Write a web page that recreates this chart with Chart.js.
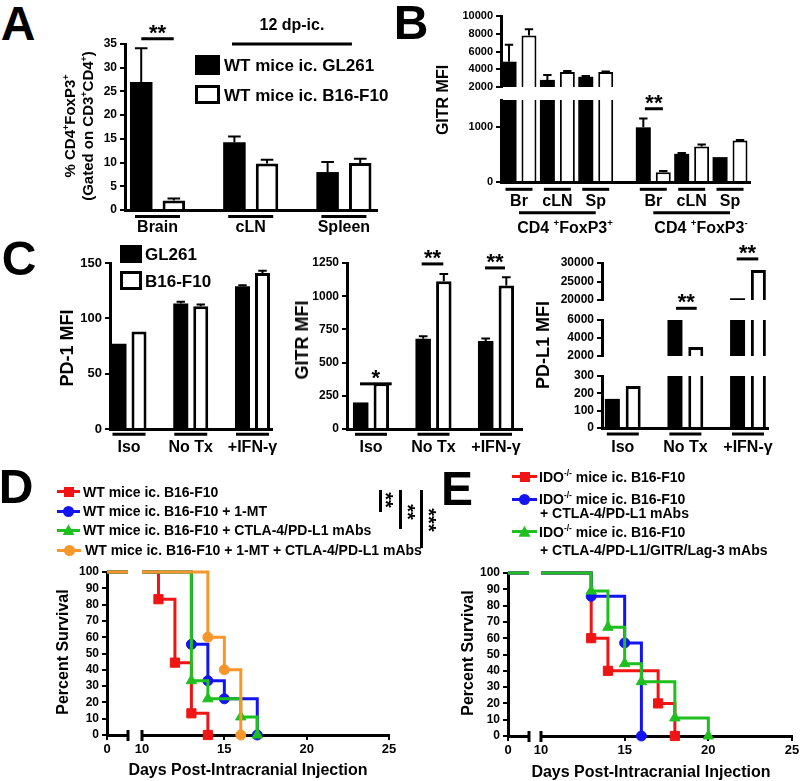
<!DOCTYPE html>
<html lang="en">
<head>
<meta charset="UTF-8">
<title>Treg, checkpoint and survival panels</title>
<script src="https://cdn.jsdelivr.net/npm/chart.js@4.4.1/dist/chart.umd.min.js"></script>
<style>
  body { margin: 0; background: #fff; }
  #fig { position: relative; width: 800px; height: 781px; overflow: hidden; background: #fff;
         font-family: "Liberation Sans", Arial, sans-serif; font-weight: bold; color: #000; }
  #fig canvas { position: absolute; }
  .t { position: absolute; white-space: nowrap; line-height: 1; }
  .t sup { font-size: 0.6em; line-height: 0; vertical-align: 0.7em; }
  .b { position: absolute; box-sizing: border-box; }
</style>
</head>
<body>
<div id="fig"></div>
<script>
// ---------- data ----------
// A: % CD4+FoxP3+ of CD3+CD4+
const aCats = ['Brain', 'cLN', 'Spleen'];
const aGL261 = [27.0, 14.3, 8.0];
const aGL261Err = [7.1, 1.2, 2.1];
const aB16 = [2.0, 9.8, 9.9];
const aB16Err = [0.4, 0.8, 0.9];
const aTicks = [0, 5, 10, 15, 20, 25, 30, 35];

// B: GITR MFI, CD4+FoxP3+ then CD4+FoxP3-
const bCats = ['Br', 'cLN', 'Sp', 'Br', 'cLN', 'Sp'];
const bGL261 = [4850, 2800, 3150, 1000, 515, 455];
const bGL261Err = [1900, 550, 80, 160, 15, 0];
const bB16 = [7800, 3700, 3700, 180, 650, 758];
const bB16Err = [700, 100, 60, 20, 35, 12];
const bTicksHigh = [2000, 4000, 6000, 8000, 10000];
const bTicksLow = [0, 1000];

// C: PD-1, GITR, PD-L1 MFI
const cCats = ['Iso', 'No Tx', '+IFN-γ'];
const pd1GL261 = [77, 113.5, 129];
const pd1GL261Err = [0, 1.5, 1];
const pd1B16 = [88, 111, 141];
const pd1B16Err = [0, 1.5, 2];
const pd1Ticks = [0, 50, 100, 150];
const gitrGL261 = [200, 680, 662];
const gitrGL261Err = [0, 18, 20];
const gitrB16 = [345, 1112, 1080];
const gitrB16Err = [0, 55, 62];
const gitrTicks = [0, 250, 500, 750, 1000, 1250];
const pdl1GL261 = [168, 6000, 20450];
const pdl1B16 = [243, 3000, 28100];
const noErr = [0, 0, 0];
const pdl1TicksHigh = [20000, 25000, 30000];
const pdl1TicksMid = [2000, 4000, 6000];
const pdl1TicksLow = [0, 100, 200, 300];

// D: WT mice survival
const dRedDays = [0, 11, 12, 13, 14];
const dRed = [100, 83.3, 44.4, 13.3, 0];
const dBlueDays = [0, 13, 14, 15, 17];
const dBlue = [100, 55.6, 33.3, 22.2, 0];
const dGreenDays = [0, 13, 14, 16, 17];
const dGreen = [100, 33.3, 22.2, 11.1, 0];
const dOrangeDays = [0, 14, 15, 16];
const dOrange = [100, 60, 40, 0];

// E: IDO-/- mice survival
const eRedDays = [0, 13, 14, 17, 18];
const eRed = [100, 60, 40, 20, 0];
const eBlueDays = [0, 13, 15, 16];
const eBlue = [100, 85.7, 57.1, 0];
const eGreenDays = [0, 13, 14, 15, 16, 18, 20];
const eGreen = [100, 88.9, 66.7, 44.4, 33.3, 11.1, 0];

const survTicks = [0, 10, 20, 30, 40, 50, 60, 70, 80, 90, 100];
const dayTicksLeft = [0];
const dayTicksRight = [10, 15, 20, 25];

// ---------- setup ----------
const fig = document.getElementById('fig');
const FONT = '"Liberation Sans", Arial, sans-serif';
const M = 40; // canvas margin around each plot area
const RED = '#f01414', BLUE = '#1414f0', GREEN = '#1fbf1f', ORANGE = '#f7962a';

Chart.defaults.font.family = FONT;
Chart.defaults.font.weight = 'bold';
Chart.defaults.color = '#000';
Chart.defaults.animation = false;
Chart.defaults.plugins.legend.display = false;
Chart.defaults.plugins.tooltip.enabled = false;

function fit(w, h) {
  return function (s) {
    if (w !== undefined) s.width = w;
    if (h !== undefined) s.height = h;
    s.paddingLeft = 0; s.paddingRight = 0; s.paddingTop = 0; s.paddingBottom = 0;
  };
}

function canvasFor(area, yw, xh) {
  const c = document.createElement('canvas');
  c.width = area.r - area.l + yw + 2 * M;
  c.height = area.b - area.t + xh + 2 * M;
  c.style.left = (area.l - yw - M) + 'px';
  c.style.top = (area.t - M) + 'px';
  fig.appendChild(c);
  return c;
}

// error bars on top of bars
const errorBars = {
  id: 'errorBars',
  afterDatasetsDraw(chart) {
    const ctx = chart.ctx, y = chart.scales.y;
    chart.data.datasets.forEach((ds, di) => {
      if (!ds.errors) return;
      chart.getDatasetMeta(di).data.forEach((bar, i) => {
        const v = ds.data[i].y, e = ds.errors[i];
        if (!e || v > y.max || v < y.min) return;
        const top = y.getPixelForValue(v + e);
        const hw = bar.width * 0.28;
        ctx.save();
        ctx.strokeStyle = '#000';
        ctx.lineWidth = 2;
        ctx.beginPath();
        ctx.moveTo(bar.x, bar.y);
        ctx.lineTo(bar.x, top);
        ctx.moveTo(bar.x - hw, top);
        ctx.lineTo(bar.x + hw, top);
        ctx.stroke();
        ctx.restore();
      });
    });
  }
};

// significance lines, category underlines, group lines, axis breaks
const annot = {
  id: 'annot',
  afterDraw(chart, args, o) {
    const ctx = chart.ctx, ca = chart.chartArea, x = chart.scales.x, y = chart.scales.y;
    const seg = (x0, y0, x1, y1) => { ctx.beginPath(); ctx.moveTo(x0, y0); ctx.lineTo(x1, y1); ctx.stroke(); };
    ctx.save();
    ctx.strokeStyle = '#000';
    ctx.fillStyle = '#000';
    ctx.lineWidth = 3;
    ctx.textAlign = 'center';
    ctx.textBaseline = 'alphabetic';
    if (o.sig) o.sig.forEach(s => {
      const py = y.getPixelForValue(s.y), x0 = x.getPixelForValue(s.x0), x1 = x.getPixelForValue(s.x1);
      seg(x0, py, x1, py);
      ctx.font = 'bold ' + (s.size || 22) + 'px ' + FONT;
      ctx.fillText(s.text, (x0 + x1) / 2, py + (s.off === undefined ? 1 : s.off));
    });
    if (o.under) x.ticks.forEach(t => {
      const px = x.getPixelForValue(t.value), py = ca.bottom + o.under.dy;
      seg(px - o.under.hw, py, px + o.under.hw, py);
    });
    if (o.groups) o.groups.forEach(g => {
      const py = ca.bottom + g.dy;
      seg(x.getPixelForValue(g.x0), py, x.getPixelForValue(g.x1), py);
    });
    if (o.brk) o.brk.forEach(side => {
      const px = side === 'left' ? ca.left : ca.right;
      seg(px, ca.bottom - 5, px, ca.bottom + 6);
    });
    ctx.restore();
  }
};

function yScale(min, max, ticks, yw, size) {
  return {
    min: min, max: max,
    afterFit: fit(yw, undefined),
    afterBuildTicks: s => { s.ticks = ticks.map(v => ({ value: v })); },
    ticks: { font: { size: size }, padding: 3, autoSkip: false, callback: v => String(v) },
    grid: { display: true, drawOnChartArea: false, drawTicks: true, tickLength: 5, color: '#000', lineWidth: 2 },
    border: { display: true, color: '#000', width: 3 }
  };
}

function bars(area, o) {
  const c = canvasFor(area, o.yw, o.xh);
  const mk = (vals, errs, fill) => ({
    data: o.xs.map((x, i) => ({ x: x, y: vals[i] })),
    errors: errs,
    backgroundColor: fill,
    borderColor: '#000',
    borderWidth: fill === '#000' ? 0 : o.bw,
    clip: 0,
    categoryPercentage: o.cat,
    barPercentage: o.bar
  });
  return new Chart(c, {
    type: 'bar',
    data: { datasets: [mk(o.gl, o.glErr, '#000'), mk(o.b16, o.b16Err, '#fff')] },
    options: {
      responsive: false,
      layout: { padding: M },
      scales: {
        x: {
          type: 'linear', offset: false, min: o.xMin, max: o.xMax, display: o.showX,
          afterFit: fit(undefined, o.xh),
          afterBuildTicks: s => { s.ticks = o.xs.map(v => ({ value: v })); },
          ticks: { autoSkip: false, maxRotation: 0, font: { size: 16 }, padding: o.lp || 0,
                   callback: (v, i) => o.cats[i] },
          grid: { display: false, drawTicks: false },
          border: { display: true, color: '#000', width: 3 }
        },
        y: yScale(o.yMin, o.yMax, o.yTicks, o.yw, o.ts)
      },
      plugins: { annot: o.annot || {} }
    },
    plugins: [errorBars, annot]
  });
}

function km(area, o) {
  const c = canvasFor(area, o.yw, o.xh);
  return new Chart(c, {
    type: 'line',
    data: {
      datasets: o.series.map(s => ({
        data: s.days.map((d, i) => ({ x: d, y: s.surv[i] })),
        borderColor: s.color, backgroundColor: s.color, borderWidth: 3,
        stepped: true, fill: false,
        pointStyle: s.shape,
        pointRadius: ctx => (ctx.dataIndex === 0 ? 0 : s.r),
        pointBorderWidth: 1, pointBorderColor: s.color, pointBackgroundColor: s.color,
        order: s.order,
        clip: { left: 0, right: 0, top: 8, bottom: 8 }
      }))
    },
    options: {
      responsive: false,
      layout: { padding: M },
      scales: {
        x: {
          type: 'linear', min: o.xMin, max: o.xMax,
          afterFit: fit(undefined, o.xh),
          afterBuildTicks: s => { s.ticks = o.xTicks.map(v => ({ value: v })); },
          ticks: { font: { size: 13 }, padding: 2, maxRotation: 0, autoSkip: false, callback: v => String(v) },
          grid: { display: true, drawOnChartArea: false, tickLength: 5, color: '#000', lineWidth: 2 },
          border: { display: true, color: '#000', width: 3 }
        },
        y: o.showY ? yScale(0, 100, survTicks, o.yw, 12) : { display: false, min: 0, max: 100 }
      },
      plugins: { annot: { brk: o.brk } }
    },
    plugins: [annot]
  });
}

// ---------- panel A ----------
bars({ l: 125, t: 44, r: 377, b: 210 }, {
  xs: [1, 2, 3], xMin: 0.651, xMax: 3.355, cat: 0.7, bar: 0.69, cats: aCats,
  gl: aGL261, glErr: aGL261Err, b16: aB16, b16Err: aB16Err, bw: 3,
  yMin: 0, yMax: 35, yTicks: aTicks, yw: 40, ts: 12, showX: true, xh: 40, lp: 8,
  annot: {
    sig: [{ x0: 0.826, x1: 1.174, y: 36.1, text: '**' },
          { x0: 1.799, x1: 3.086, y: 35, text: '12 dp-ic.', size: 16, off: -14 }],
    under: { dy: 6.5, hw: 22.5 }
  }
});

// ---------- panel B (broken y axis) ----------
const bLayout = { xs: [1, 2, 3, 4.5, 5.5, 6.5], xMin: 0.531, xMax: 7.02, cat: 1.04, bar: 0.75, cats: bCats,
                  gl: bGL261, glErr: bGL261Err, b16: bB16, b16Err: bB16Err, bw: 2, yw: 50, ts: 11 };
bars({ l: 501, t: 16, r: 750, b: 87 }, Object.assign({}, bLayout,
  { showX: false, xh: 0, yMin: 2000, yMax: 10000, yTicks: bTicksHigh }));
bars({ l: 501, t: 100, r: 750, b: 182 }, Object.assign({}, bLayout, {
  showX: true, xh: 40, lp: 10, yMin: 0, yMax: 1500, yTicks: bTicksLow,
  annot: {
    sig: [{ x0: 4.28, x1: 4.75, y: 1340, text: '**' }],
    under: { dy: 7.3, hw: 13.5 },
    groups: [{ x0: 1, x1: 3, dy: 30.7 }, { x0: 4.5, x1: 6.5, dy: 30.7 }]
  }
}));

// ---------- panel C ----------
bars({ l: 110, t: 263, r: 272, b: 429 }, {
  xs: [1, 2, 3], xMin: 0.692, xMax: 3.316, cat: 0.648, bar: 0.75, cats: cCats,
  gl: pd1GL261, glErr: pd1GL261Err, b16: pd1B16, b16Err: pd1B16Err, bw: 3,
  yMin: 0, yMax: 150, yTicks: pd1Ticks, yw: 40, ts: 13, showX: true, xh: 40, lp: 9,
  annot: { under: { dy: 5.3, hw: 16.5 } }
});
bars({ l: 347, t: 263, r: 522, b: 429 }, {
  xs: [1, 2, 3], xMin: 0.616, xMax: 3.416, cat: 0.66, bar: 0.75, cats: cCats,
  gl: gitrGL261, glErr: gitrGL261Err, b16: gitrB16, b16Err: gitrB16Err, bw: 3,
  yMin: 0, yMax: 1250, yTicks: gitrTicks, yw: 45, ts: 12, showX: true, xh: 40, lp: 9,
  annot: {
    sig: [{ x0: 0.824, x1: 1.331, y: 340, text: '*' },
          { x0: 1.811, x1: 2.157, y: 1243, text: '**' },
          { x0: 2.824, x1: 3.144, y: 1213, text: '**' }],
    under: { dy: 5.3, hw: 16 }
  }
});
const cLayout = { xs: [1, 2, 3], xMin: 0.668, xMax: 3.32, cat: 0.665, bar: 0.72, cats: cCats,
                  gl: pdl1GL261, glErr: noErr, b16: pdl1B16, b16Err: noErr, bw: 3, yw: 50, ts: 12 };
bars({ l: 602, t: 263, r: 768, b: 300 }, Object.assign({}, cLayout, {
  showX: false, xh: 0, yMin: 20000, yMax: 30000, yTicks: pdl1TicksHigh,
  annot: { sig: [{ x0: 2.82, x1: 3.165, y: 31100, text: '**' }] }
}));
bars({ l: 602, t: 320, r: 768, b: 356 }, Object.assign({}, cLayout, {
  showX: false, xh: 0, yMin: 2000, yMax: 6000, yTicks: pdl1TicksMid,
  annot: { sig: [{ x0: 1.85, x1: 2.181, y: 7300, text: '**' }] }
}));
bars({ l: 602, t: 376, r: 768, b: 428 }, Object.assign({}, cLayout, {
  showX: true, xh: 40, lp: 10, yMin: 0, yMax: 300, yTicks: pdl1TicksLow,
  annot: { under: { dy: 6, hw: 16 } }
}));

// ---------- panels D and E (broken x axis) ----------
const dSeries = [
  { days: dRedDays, surv: dRed, color: RED, shape: 'rect', r: 6.5, order: 3 },
  { days: dBlueDays, surv: dBlue, color: BLUE, shape: 'circle', r: 5, order: 2 },
  { days: dGreenDays, surv: dGreen, color: GREEN, shape: 'triangle', r: 6, order: 1 },
  { days: dOrangeDays, surv: dOrange, color: ORANGE, shape: 'circle', r: 5, order: 0 }
];
const eSeries = [
  { days: eRedDays, surv: eRed, color: RED, shape: 'rect', r: 6.5, order: 2 },
  { days: eBlueDays, surv: eBlue, color: BLUE, shape: 'circle', r: 5, order: 1 },
  { days: eGreenDays, surv: eGreen, color: GREEN, shape: 'triangle', r: 6, order: 0 }
];
km({ l: 107, t: 572, r: 128, b: 735 }, { series: dSeries, xMin: 0, xMax: 1.27, xTicks: dayTicksLeft, yw: 35, xh: 30, showY: true, brk: ['right'] });
km({ l: 142, t: 572, r: 389, b: 735 }, { series: dSeries, xMin: 10, xMax: 25, xTicks: dayTicksRight, yw: 0, xh: 30, showY: false, brk: ['left'] });
km({ l: 508, t: 573, r: 529, b: 736 }, { series: eSeries, xMin: 0, xMax: 1.27, xTicks: dayTicksLeft, yw: 35, xh: 30, showY: true, brk: ['right'] });
km({ l: 541, t: 573, r: 792, b: 736 }, { series: eSeries, xMin: 10, xMax: 25, xTicks: dayTicksRight, yw: 0, xh: 30, showY: false, brk: ['left'] });

// ---------- text, legends ----------
function text(html, cx, cy, size, rot) {
  const d = document.createElement('div');
  d.className = 't';
  d.innerHTML = html;
  d.style.left = cx + 'px';
  d.style.top = cy + 'px';
  d.style.fontSize = size + 'px';
  d.style.transform = 'translate(-50%,-50%)' + (rot ? ' rotate(' + rot + 'deg)' : '');
  fig.appendChild(d);
  return d;
}
function ltext(html, x, cy, size) {
  const d = text(html, x, cy, size);
  d.style.transform = 'translateY(-50%)';
  return d;
}
function box(x, y, w, h, css) {
  const d = document.createElement('div');
  d.className = 'b';
  d.style.cssText = 'left:' + x + 'px;top:' + y + 'px;width:' + w + 'px;height:' + h + 'px;' + css;
  fig.appendChild(d);
}
function marker(shape, color, cx, cy) {
  if (shape === 'rect') box(cx - 5, cy - 5, 10, 10, 'background:' + color);
  else if (shape === 'circle') box(cx - 5.5, cy - 5.5, 11, 11, 'background:' + color + ';border-radius:50%');
  else box(cx - 6, cy - 6, 12, 11, 'background:' + color + ';clip-path:polygon(50% 0,100% 100%,0 100%)');
}
function legendRow(s, x0, x1, cy, html, tx) {
  box(x0, cy - 1.5, x1 - x0, 3, 'background:' + s.color);
  marker(s.shape, s.color, (x0 + x1) / 2, cy);
  ltext(html, tx, cy, 14);
}

// panel letters
text('A', 18, 24, 48);
text('B', 411, 23, 48);
text('C', 19, 259, 48);
text('D', 16, 487, 48);
text('E', 457, 489, 48);

// A
const aTitle = text('% CD4<sup>+</sup>FoxP3<sup>+</sup><br>(Gated on CD3<sup>+</sup>CD4<sup>+</sup>)', 79, 126, 15, -90);
aTitle.style.lineHeight = '18px';
aTitle.style.textAlign = 'center';
box(195, 55, 25, 20, 'background:#000');
box(195, 85, 25, 19, 'background:#fff;border:3px solid #000');
ltext('WT mice ic. GL261', 224, 65, 17);
ltext('WT mice ic. B16-F10', 224, 94.5, 17);

// B
text('GITR MFI', 443, 100, 16, -90);
text('CD4 <sup>+</sup>FoxP3<sup>+</sup>', 565, 228, 16);
text('CD4 <sup>+</sup>FoxP3<sup>-</sup>', 701, 228, 16);

// C
box(120, 245, 22, 18, 'background:#000');
box(120, 271, 22, 19, 'background:#fff;border:3px solid #000');
ltext('GL261', 145, 254, 17);
ltext('B16-F10', 145, 280.5, 17);
text('PD-1 MFI', 67, 348, 18, -90);
text('GITR MFI', 302, 340, 18, -90);
text('PD-L1 MFI', 543, 345, 18, -90);

// D
legendRow(dSeries[0], 57, 80, 491.7, 'WT mice ic. B16-F10', 83);
legendRow(dSeries[1], 57, 80, 511, 'WT mice ic. B16-F10 + 1-MT', 83);
legendRow(dSeries[2], 57, 80, 530.3, 'WT mice ic. B16-F10 + CTLA-4/PD-L1 mAbs', 83);
legendRow(dSeries[3], 57, 81, 550, 'WT mice ic. B16-F10 + 1-MT + CTLA-4/PD-L1 mAbs', 85);
box(378.5, 490, 3, 22, 'background:#000');
box(398.5, 490, 3, 39, 'background:#000');
box(420, 490, 3, 58, 'background:#000');
text('**', 386, 500, 20, 90);
text('**', 408, 512, 20, 90);
text('***', 429, 520, 20, 90);
text('Percent Survival', 63, 652, 16, -90);
text('Days Post-Intracranial Injection', 248, 770, 16);

// E
legendRow(eSeries[0], 512, 537, 476.7, 'IDO<sup>-/-</sup> mice ic. B16-F10', 539);
legendRow(eSeries[1], 512, 537, 499.3, 'IDO<sup>-/-</sup> mice ic. B16-F10', 539);
ltext('+ CTLA-4/PD-L1 mAbs', 540, 513, 14);
legendRow(eSeries[2], 512, 537, 531.7, 'IDO<sup>-/-</sup> mice ic. B16-F10', 539);
ltext('+ CTLA-4/PD-L1/GITR/Lag-3 mAbs', 540, 549.5, 14);
text('Percent Survival', 468, 653, 16, -90);
text('Days Post-Intracranial Injection', 651, 772, 16);
</script>
</body>
</html>
